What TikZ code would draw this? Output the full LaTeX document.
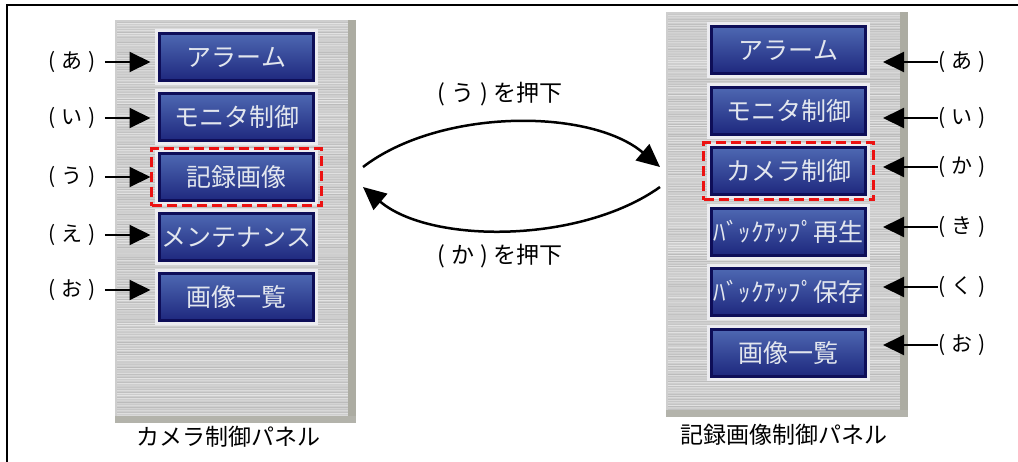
\documentclass[tikz,border=0pt]{standalone}
\usepackage{fontspec}
\setmainfont{Noto Sans CJK JP}
\usepackage{tikz}
\usetikzlibrary{calc,positioning,fit,arrows.meta}

\definecolor{btnnavy}{RGB}{14,14,88}
\definecolor{btntop}{RGB}{78,104,178}
\definecolor{btnmid}{RGB}{92,128,190}
\definecolor{btnbot}{RGB}{30,40,126}
\definecolor{btnrim}{RGB}{236,236,240}
\definecolor{btntext}{RGB}{226,230,238}
\definecolor{metal}{RGB}{206,206,206}
\definecolor{metaldark}{RGB}{172,172,162}
\definecolor{dashred}{RGB}{236,18,18}

\newcommand{\kakko}[1]{(\hspace{6pt}#1\hspace{6pt})}

\tikzset{
	panel/.style={rectangle, fill=metal, inner sep=0, outer sep=0},
	button/.style={rectangle, draw=btnnavy, line width=3pt, top color=btntop, middle color=btnmid, bottom color=btnbot,
		minimum width=154pt, minimum height=47pt, inner sep=0, outer sep=0, text=btntext,
		font=\fontsize{25}{27}\selectfont, preaction={draw=btnrim, line width=9pt}},
	tag/.style={inner sep=0, font=\fontsize{21}{23}\selectfont},
	caption/.style={inner sep=0, font=\fontsize{23}{25}\selectfont},
	pointer/.style={line width=2pt, -{Triangle[length=21pt,width=20pt]}},
	flow/.style={line width=2.5pt, -{Triangle[length=23pt,width=21pt]}},
	hilite/.style={draw=dashred, line width=3pt, dash pattern=on 10pt off 5pt, inner xsep=8pt, inner ysep=5pt}
}

\begin{document}
\begin{tikzpicture}[x=1pt, y=-1pt]
	\useasboundingbox (0,0) rectangle (1018,461);
	\fill[white] (0,0) rectangle (1018,461);
	\clip (0,0) rectangle (1018,461);
	\draw[line width=1.5pt] (7,5) rectangle (1030,475);

	% panels
	\node[panel, minimum width=241pt, minimum height=403pt] (lpanel) at (235.5,221.5) {};
	\node[panel, minimum width=242pt, minimum height=405pt] (rpanel) at (787,214.5) {};
	\pgfmathsetseed{11}
	\foreach \y in {22,24.5,...,418} {
		\pgfmathsetmacro{\tone}{int(10*rnd)}
		\pgfmathsetmacro{\lit}{int(45*rnd)}
		\draw[black!\tone!metal, line width=1pt] (117,\y) -- (348,\y);
		\draw[white!\lit!metal, line width=0.7pt] (117,\y+1.2) -- (348,\y+1.2);
		\pgfmathsetmacro{\tone}{int(10*rnd)}
		\pgfmathsetmacro{\lit}{int(45*rnd)}
		\draw[black!\tone!metal, line width=1pt] (668,\y-8) -- (900,\y-8);
		\draw[white!\lit!metal, line width=0.7pt] (668,\y-6.8) -- (900,\y-6.8);
	}
	\fill[metaldark] ($(lpanel.north east)+(-8,0)$) rectangle (lpanel.south east);
	\fill[metaldark!80!metal] ($(lpanel.south west)+(0,-7)$) rectangle (lpanel.south east);
	\fill[metaldark] ($(rpanel.north east)+(-8,0)$) rectangle (rpanel.south east);
	\fill[metaldark!80!metal] ($(rpanel.south west)+(0,-7)$) rectangle (rpanel.south east);

	% left buttons
	\node[button] (lb1) at (236.5,57) {アラーム};
	\node[button, below=13pt of lb1] (lb2) {モニタ制御};
	\node[button, below=13pt of lb2] (lb3) {記録画像};
	\node[button, below=13pt of lb3] (lb4) {メンテナンス};
	\node[button, below=13pt of lb4] (lb5) {画像一覧};

	% right buttons
	\node[button] (rb1) at (788.5,50) {アラーム};
	\node[button, below=13.5pt of rb1] (rb2) {モニタ制御};
	\node[button, below=13.5pt of rb2] (rb3) {カメラ制御};
	\node[button, below=13.5pt of rb3] (rb4) {ﾊﾞｯｸｱｯﾌﾟ再生};
	\node[button, below=13.5pt of rb4] (rb5) {ﾊﾞｯｸｱｯﾌﾟ保存};
	\node[button, below=13.5pt of rb5] (rb6) {画像一覧};

	\node[hilite, fit=(lb3)] (lsel) {};
	\node[hilite, fit=(rb3)] (rsel) {};

	% left tags
	\node[tag] (la1) at (72,62) {\kakko{あ}};
	\node[tag] (la2) at (72,118) {\kakko{い}};
	\node[tag] (la3) at (72,177) {\kakko{う}};
	\node[tag] (la4) at (72,235) {\kakko{え}};
	\node[tag] (la5) at (72,290) {\kakko{お}};
	\foreach \i in {1,...,5}
		\draw[pointer, shorten <=9pt, shorten >=9pt] (la\i.east) -- (la\i.east -| lb\i.west);

	% right tags
	\node[tag] (ra1) at (962,62) {\kakko{あ}};
	\node[tag] (ra2) at (962,118) {\kakko{い}};
	\node[tag] (ra3) at (962,167) {\kakko{か}};
	\node[tag] (ra4) at (962,227) {\kakko{き}};
	\node[tag] (ra5) at (962,287) {\kakko{く}};
	\node[tag] (ra6) at (962,345) {\kakko{お}};
	\foreach \i in {1,...,6}
		\draw[pointer, shorten >=17.5pt] (ra\i.west) -- (ra\i.west -| rb\i.east);

	% transitions
	\draw[flow] ($(lpanel.east)+(7,-54.5)$) .. controls +(77,-59) and +(-70,-59) .. ($(rpanel.west)+(-6,-47.5)$);
	\draw[flow] ($(rpanel.west)+(-6,-27.5)$) .. controls +(-80,57) and +(67,57) .. ($(lpanel.east)+(7,-34.5)$);
	\node[tag, font=\fontsize{23}{25}\selectfont] (go) at (500,94) {\kakko{う}\hspace{5pt}を押下};
	\node[tag, font=\fontsize{23}{25}\selectfont] (back) at (500,256) {\kakko{か}\hspace{5pt}を押下};

	\node[caption] (lcap) at (228,437) {カメラ制御パネル};
	\node[caption] (rcap) at (784,435) {記録画像制御パネル};
\end{tikzpicture}
\end{document}
